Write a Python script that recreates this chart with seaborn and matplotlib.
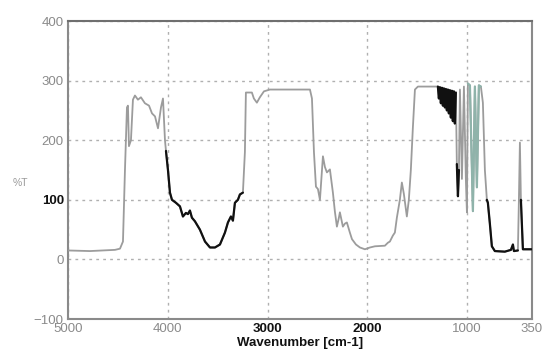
import numpy as np
import pandas as pd
import matplotlib
matplotlib.use("Agg")
import matplotlib.pyplot as plt
import seaborn as sns
from matplotlib.ticker import MultipleLocator, FixedLocator

# IR transmission spectrum (%T against wavenumber)
wavenumber = [
    5000, 4780, 4529, 4479, 4449, 4429, 4409, 4399, 4389, 4369, 4349, 4329,
    4299, 4269, 4229, 4188, 4158, 4128, 4098, 4068, 4048, 4028, 4018, 3998,
    3978, 3958, 3918, 3878, 3848, 3818, 3798, 3778, 3758, 3728, 3678, 3627,
    3577, 3527, 3477, 3427, 3397, 3367, 3347, 3327, 3297, 3277, 3247, 3227,
    3217, 3157, 3137, 3107, 3077, 3036, 2976, 2575, 2555, 2535, 2515, 2495,
    2475, 2455, 2445, 2425, 2405, 2375, 2345, 2325, 2305, 2285, 2275, 2245,
    2225, 2205, 2175, 2154, 2114, 2074, 2024, 1974, 1924, 1824, 1794, 1774,
    1744, 1724, 1704, 1684, 1674, 1654, 1634, 1604, 1584, 1564, 1544, 1523,
    1493, 1323, 1293, 1283, 1273, 1263, 1253, 1243, 1233, 1223, 1213, 1203,
    1193, 1183, 1173, 1163, 1153, 1143, 1133, 1123, 1113, 1103, 1092, 1082,
    1072, 1052, 1032, 1012, 1002, 992, 972, 942, 922, 902, 882, 862,
    842, 822, 802, 792, 772, 752, 722, 622, 561, 541, 531, 491,
    481, 471, 461, 441, 350,
]
transmittance = [
    15, 14, 16, 18, 30, 150, 255, 258, 190, 200, 268, 275,
    268, 272, 262, 258, 245, 240, 220, 255, 270, 200, 182, 150,
    112, 100, 95, 89, 72, 78, 76, 82, 70, 64, 50, 30,
    20, 20, 25, 45, 62, 72, 65, 95, 100, 109, 112, 180,
    280, 280, 270, 263, 272, 282, 285, 285, 270, 180, 122, 118,
    100, 150, 173, 155, 146, 151, 112, 80, 55, 70, 79, 55,
    60, 62, 45, 34, 25, 20, 17, 20, 22, 23, 28, 30,
    40, 45, 70, 90, 100, 129, 110, 72, 100, 150, 220, 285,
    290, 290, 290, 270, 289, 262, 288, 258, 287, 255, 286, 250,
    285, 245, 284, 238, 283, 232, 282, 228, 280, 160, 106, 150,
    285, 135, 290, 131, 79, 295, 292, 81, 290, 121, 292, 290,
    263, 150, 100, 95, 60, 22, 14, 13, 16, 25, 14, 15,
    100, 196, 100, 17, 17,
]

# wavenumber ranges recorded in a darker trace
dark_ranges = [(4018, 3247, "#111111"), (1293, 1113, "#111111"),
               (1103, 1082, "#111111"), (802, 491, "#111111"),
               (461, 350, "#111111"), (992, 862, "#8fb3aa")]

x_ticks = [5000, 4000, 3000, 2000, 1000, 350]
x_tick_colors = ["#8a8a8a", "#8a8a8a", "#111111", "#111111", "#8a8a8a", "#8a8a8a"]
y_ticks = [-100, 0, 100, 200, 300, 400]
y_tick_colors = ["#8a8a8a", "#8a8a8a", "#111111", "#8a8a8a", "#8a8a8a", "#8a8a8a"]

df = pd.DataFrame({"wavenumber": wavenumber, "T": transmittance})

sns.set_style("white")
plt.rcParams["font.family"] = ["Liberation Sans", "DejaVu Sans"]

fig = plt.figure(figsize=(5.43, 3.64), dpi=100)
ax = fig.add_axes([0.1252, 0.1236, 0.8545, 0.8187])

sns.lineplot(data=df, x="wavenumber", y="T", ax=ax, color="#9c9c9c",
             linewidth=1.3, estimator=None, sort=False, zorder=3)
for hi, lo, col in dark_ranges:
    sub = df[(df["wavenumber"] <= hi) & (df["wavenumber"] >= lo)]
    sns.lineplot(data=sub, x="wavenumber", y="T", ax=ax, color=col,
                 linewidth=1.6, estimator=None, sort=False, zorder=4)

ax.set_xlim(5000, 350)
ax.set_ylim(-100, 400)

ax.xaxis.set_major_locator(FixedLocator(x_ticks))
ax.xaxis.set_minor_locator(FixedLocator([4500, 3500, 2500, 1500]))
ax.yaxis.set_major_locator(FixedLocator(y_ticks))
ax.yaxis.set_minor_locator(MultipleLocator(50))

ax.grid(True, which="major", color="#b0b0b0", linestyle=(0, (2, 3)), linewidth=1.0, zorder=1)
ax.set_axisbelow(True)

ax.tick_params(axis="both", which="major", direction="in", length=4, width=1.2,
               color="#777777", labelsize=9.5, pad=3)
ax.tick_params(axis="both", which="minor", direction="in", length=3, width=1.0,
               color="#999999")

for lbl, c in zip(ax.get_xticklabels(), x_tick_colors):
    lbl.set_color(c)
    if c == "#111111":
        lbl.set_fontweight("bold")
for lbl, c in zip(ax.get_yticklabels(), y_tick_colors):
    lbl.set_color(c)
    if c == "#111111":
        lbl.set_fontweight("bold")

for side, sp in ax.spines.items():
    sp.set_visible(True)
    sp.set_color("#8a8a8a")
    sp.set_linewidth(1.5)
ax.spines["top"].set_color("#6f6f6f")

ax.set_xlabel("Wavenumber [cm-1]", fontsize=9.5, color="#111111", labelpad=1,
              fontweight="bold")
ax.set_ylabel("")
fig.text(0.037, 0.497, "%T", fontsize=7.5, color="#9a9a9a", ha="center", va="center")

fig.savefig("out.png", dpi=100, facecolor="white")
